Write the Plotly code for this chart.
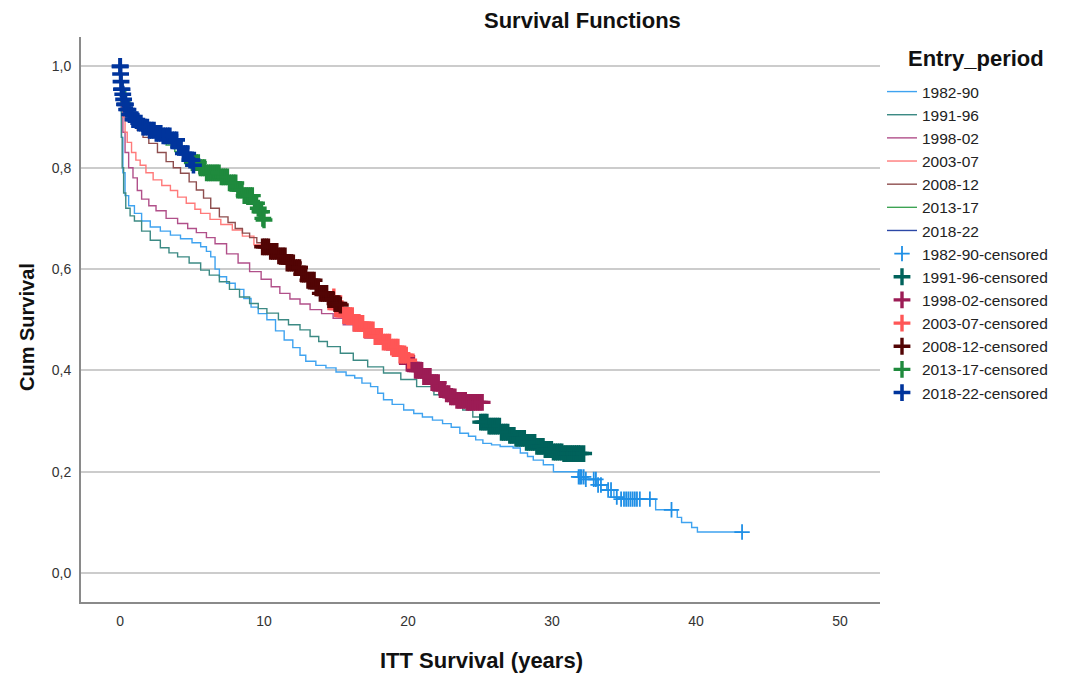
import numpy as np
import plotly.graph_objects as go

# ---------------- data ----------------
periods = ["1982-90", "1991-96", "1998-02", "2003-07", "2008-12", "2013-17", "2018-22"]

x_ticks = [0, 10, 20, 30, 40, 50]
y_ticks = [0.0, 0.2, 0.4, 0.6, 0.8, 1.0]
y_tick_labels = ["0,0", "0,2", "0,4", "0,6", "0,8", "1,0"]

# Kaplan-Meier step points (time in years, cumulative survival)
km_1982_90 = [(0, 1.0), (0.05, 0.93), (0.1, 0.86), (0.2, 0.79), (0.35, 0.745), (0.6, 0.725),
              (1.0, 0.71), (1.5, 0.695), (2.1, 0.683), (2.8, 0.675), (3.5, 0.667), (4.2, 0.66),
              (5.0, 0.652), (5.6, 0.644), (6.0, 0.635), (6.3, 0.624), (6.6, 0.60), (6.9, 0.585),
              (7.4, 0.572), (8.0, 0.56), (8.6, 0.542), (9.1, 0.525), (9.6, 0.512), (10.2, 0.50),
              (10.8, 0.478), (11.4, 0.46), (12.0, 0.445), (12.5, 0.43), (12.9, 0.418), (13.6, 0.41),
              (14.3, 0.405), (15.0, 0.397), (15.7, 0.39), (16.3, 0.385), (16.8, 0.375), (17.4, 0.368),
              (17.9, 0.355), (18.3, 0.342), (18.9, 0.333), (19.7, 0.322), (20.4, 0.315), (21.0, 0.308),
              (21.7, 0.302), (22.4, 0.295), (23.0, 0.288), (23.6, 0.276), (24.2, 0.27), (24.7, 0.263),
              (25.2, 0.256), (25.8, 0.253), (26.4, 0.25), (27.3, 0.247), (27.8, 0.237), (28.3, 0.23),
              (28.7, 0.223), (29.4, 0.214), (30.1, 0.2), (31.8, 0.19), (32.3, 0.185), (33.1, 0.174),
              (33.8, 0.164), (34.3, 0.15), (34.7, 0.146), (37.2, 0.125), (38.7, 0.11), (39.0, 0.10),
              (39.7, 0.09), (40.1, 0.081), (43.2, 0.081)]

km_1991_96 = [(0, 1.0), (0.05, 0.93), (0.1, 0.86), (0.15, 0.8), (0.25, 0.75), (0.4, 0.72),
              (0.7, 0.705), (1.0, 0.695), (1.5, 0.675), (2.1, 0.657), (2.8, 0.642), (3.4, 0.632),
              (4.0, 0.624), (4.8, 0.612), (5.6, 0.598), (6.2, 0.588), (6.9, 0.575), (7.6, 0.56),
              (8.3, 0.545), (9.0, 0.532), (9.6, 0.522), (10.2, 0.513), (11.0, 0.50), (11.7, 0.49),
              (12.5, 0.48), (13.2, 0.467), (13.8, 0.457), (14.4, 0.447), (15.3, 0.434), (16.2, 0.42),
              (17.2, 0.407), (18.3, 0.395), (19.5, 0.382), (20.6, 0.368), (21.8, 0.352), (22.9, 0.338),
              (23.8, 0.322), (24.5, 0.308), (25.0, 0.298), (25.6, 0.29), (26.4, 0.278), (27.0, 0.272),
              (27.5, 0.266), (28.2, 0.258), (28.9, 0.25), (29.5, 0.244), (30.1, 0.239), (30.8, 0.236),
              (32.2, 0.236)]

km_1998_02 = [(0, 1.0), (0.05, 0.96), (0.1, 0.92), (0.2, 0.87), (0.35, 0.83), (0.6, 0.80),
              (0.9, 0.78), (1.2, 0.755), (1.5, 0.738), (2.0, 0.725), (2.5, 0.715), (3.2, 0.70),
              (4.0, 0.69), (4.7, 0.68), (5.3, 0.672), (6.0, 0.662), (6.6, 0.65), (7.4, 0.63),
              (8.2, 0.612), (9.0, 0.595), (9.8, 0.58), (10.5, 0.565), (11.1, 0.552), (11.8, 0.541),
              (12.5, 0.531), (13.2, 0.52), (14.0, 0.512), (14.8, 0.503), (15.5, 0.49), (16.2, 0.478),
              (17.0, 0.464), (17.8, 0.452), (18.5, 0.44), (19.2, 0.428), (19.9, 0.414), (20.5, 0.40),
              (21.0, 0.388), (21.6, 0.376), (22.2, 0.362), (22.6, 0.354), (22.9, 0.348), (23.4, 0.341),
              (24.0, 0.337), (25.2, 0.335)]

km_2003_07 = [(0, 1.0), (0.05, 0.97), (0.1, 0.94), (0.2, 0.90), (0.35, 0.87), (0.5, 0.85),
              (0.8, 0.83), (1.1, 0.815), (1.4, 0.805), (1.8, 0.79), (2.3, 0.776), (2.9, 0.765),
              (3.5, 0.755), (4.0, 0.742), (4.6, 0.73), (5.2, 0.718), (5.6, 0.71), (6.25, 0.698),
              (7.0, 0.688), (7.8, 0.677), (8.5, 0.665), (9.3, 0.648), (10.2, 0.632), (11.0, 0.618),
              (11.7, 0.606), (12.5, 0.592), (13.2, 0.576), (13.8, 0.562), (14.4, 0.545), (14.9, 0.522),
              (15.5, 0.508), (16.2, 0.493), (16.9, 0.48), (17.6, 0.467), (18.2, 0.456), (18.75, 0.446),
              (19.4, 0.43), (19.9, 0.42), (20.1, 0.414)]

km_2008_12 = [(0, 1.0), (0.05, 0.98), (0.1, 0.96), (0.2, 0.94), (0.35, 0.925), (0.6, 0.905),
              (0.9, 0.888), (1.2, 0.874), (1.6, 0.86), (2.0, 0.848), (2.6, 0.83), (3.2, 0.812),
              (3.7, 0.80), (4.2, 0.789), (4.8, 0.772), (5.3, 0.756), (5.8, 0.74), (6.3, 0.72),
              (6.9, 0.703), (7.5, 0.692), (8.0, 0.68), (8.5, 0.671), (9.0, 0.662), (9.5, 0.652),
              (9.9, 0.644), (10.4, 0.635), (10.9, 0.626), (11.6, 0.612), (12.1, 0.603), (12.6, 0.59),
              (13.0, 0.578), (13.5, 0.563), (13.9, 0.552), (14.4, 0.54), (14.8, 0.532), (15.3, 0.529)]

km_2013_17 = [(0, 1.0), (0.05, 0.985), (0.1, 0.97), (0.2, 0.95), (0.4, 0.93), (0.7, 0.91),
              (1.0, 0.895), (1.5, 0.88), (2.0, 0.87), (2.6, 0.855), (3.2, 0.845), (3.8, 0.832),
              (4.4, 0.82), (5.0, 0.81), (5.5, 0.80), (6.0, 0.79), (6.9, 0.782), (7.5, 0.77),
              (8.1, 0.756), (8.6, 0.745), (9.2, 0.73), (9.5, 0.72), (9.7, 0.713), (9.9, 0.70),
              (10.0, 0.697)]

km_2018_22 = [(0, 1.0), (0.03, 0.985), (0.06, 0.97), (0.1, 0.955), (0.15, 0.945), (0.2, 0.935),
              (0.3, 0.925), (0.45, 0.915), (0.6, 0.905), (0.9, 0.895), (1.2, 0.888), (1.6, 0.88),
              (2.0, 0.874), (2.5, 0.868), (3.0, 0.863), (3.5, 0.855), (4.0, 0.84), (4.4, 0.828),
              (4.8, 0.815), (5.1, 0.805)]

# censoring times (years)
cens_1982_90 = [31.85, 31.95, 32.05, 32.2, 32.35, 32.9, 33.05, 33.2, 33.4, 33.9, 34.1, 34.5,
                34.8, 35.0, 35.15, 35.3, 35.45, 35.6, 35.75, 35.9, 36.1, 36.8, 38.3, 43.2]
cens_1991_96 = [25.05, 25.2, 25.34, 25.48, 25.63, 25.77, 25.92, 26.06, 26.2, 26.35, 26.49, 26.64,
                26.78, 26.93, 27.07, 27.21, 27.36, 27.5, 27.65, 27.8, 27.94, 28.08, 28.23, 28.37,
                28.52, 28.66, 28.8, 28.95, 29.1, 29.24, 29.38, 29.53, 29.67, 29.82, 29.96, 30.1,
                30.25, 30.39, 30.54, 30.68, 30.83, 30.97, 31.11, 31.26, 31.4, 31.55, 31.7, 31.84,
                31.98, 32.2]
cens_1998_02 = [19.95, 20.09, 20.23, 20.38, 20.52, 20.66, 20.81, 20.95, 21.1, 21.24, 21.38, 21.53,
                21.67, 21.82, 21.96, 22.1, 22.25, 22.39, 22.54, 22.68, 22.83, 22.97, 23.11, 23.26,
                23.4, 23.55, 23.69, 23.84, 23.98, 24.12, 24.27, 24.41, 24.56, 24.7, 24.85, 24.99, 25.15]
cens_2003_07 = [14.85, 14.98, 15.12, 15.27, 15.41, 15.55, 15.7, 15.84, 15.99, 16.13, 16.27, 16.42,
                16.56, 16.71, 16.85, 17.0, 17.14, 17.28, 17.43, 17.57, 17.72, 17.86, 18.0, 18.15,
                18.29, 18.44, 18.58, 18.72, 18.87, 19.01, 19.16, 19.3, 19.45, 19.6, 19.74, 19.88, 20.05]
cens_2008_12 = [9.9, 10.03, 10.17, 10.31, 10.46, 10.6, 10.74, 10.89, 11.03, 11.17, 11.32, 11.46,
                11.61, 11.75, 11.9, 12.04, 12.18, 12.33, 12.47, 12.62, 12.76, 12.9, 13.05, 13.19,
                13.34, 13.48, 13.62, 13.77, 13.91, 14.06, 14.2, 14.35, 14.5, 14.64, 14.78, 14.93,
                15.07, 15.2, 15.3]
cens_2013_17 = [5.02, 5.15, 5.3, 5.44, 5.58, 5.73, 5.87, 6.01, 6.16, 6.3, 6.45, 6.6, 6.74, 6.88,
                7.03, 7.17, 7.31, 7.46, 7.6, 7.75, 7.9, 8.04, 8.18, 8.33, 8.47, 8.62, 8.76, 8.9,
                9.05, 9.19, 9.34, 9.48, 9.6, 9.72, 9.83, 9.92, 10.0]
cens_2018_22 = [0.0, 0.02, 0.04, 0.07, 0.1, 0.14, 0.19, 0.25, 0.31, 0.38, 0.46, 0.55, 0.66, 0.78,
                0.9, 1.03, 1.17, 1.3, 1.45, 1.6, 1.74, 1.9, 2.05, 2.2, 2.36, 2.52, 2.67, 2.83, 3.0,
                3.15, 3.31, 3.46, 3.62, 3.78, 3.93, 4.08, 4.24, 4.4, 4.55, 4.7, 4.86, 5.0, 5.1]

km_curves = [km_1982_90, km_1991_96, km_1998_02, km_2003_07, km_2008_12, km_2013_17, km_2018_22]
cens_times = [cens_1982_90, cens_1991_96, cens_1998_02, cens_2003_07, cens_2008_12, cens_2013_17, cens_2018_22]

line_colors = ["#3fa3f0", "#3c8a84", "#b1508a", "#ff7a7a", "#8e4e4e", "#3da353", "#2b47a6"]
cens_colors = ["#1f8fe6", "#00625b", "#9c1c55", "#ff5656", "#520404", "#1f8a3d", "#00349c"]
cens_sizes = [11, 12, 12, 12, 12, 12, 12]
cens_widths = [1.8, 3.4, 3.4, 3.4, 3.4, 3.4, 3.6]

FONT = "Liberation Sans, Arial, sans-serif"

# The page places the figure 8 px in from the window's top-left corner.
OFF = 8
W, H = 1070 - OFF, 675 - OFF
PL, PR, PT, PB = 81 - OFF, 880 - OFF, 37 - OFF, 602 - OFF   # plot area in figure px
PW, PH = PR - PL, PB - PT


def surv_at(curve, times):
    """Value of the KM step function at the given censoring times."""
    t = np.array([p[0] for p in curve])
    s = np.array([p[1] for p in curve])
    idx = np.searchsorted(t, np.array(times), side="right") - 1
    return s[np.clip(idx, 0, len(s) - 1)]


def px_x(px):  # reference-window x pixel -> paper coordinate
    return (px - OFF - PL) / PW


def px_y(py):  # reference-window y pixel -> paper coordinate
    return (PB - (py - OFF)) / PH


fig = go.Figure()

for name, curve, col in zip(periods, km_curves, line_colors):
    fig.add_trace(go.Scatter(
        x=[p[0] for p in curve], y=[p[1] for p in curve],
        mode="lines", line=dict(color=col, width=1.4, shape="hv"),
        name=name, hoverinfo="skip"))

for name, curve, ct, col, sz, lw in zip(periods, km_curves, cens_times, cens_colors, cens_sizes, cens_widths):
    fig.add_trace(go.Scatter(
        x=ct, y=surv_at(curve, ct),
        mode="markers",
        marker=dict(symbol="cross-thin", size=sz, line=dict(color=col, width=lw), color=col),
        name=name + "-censored", hoverinfo="skip"))

fig.update_layout(
    width=W, height=H,
    margin=dict(l=PL, r=W - PR, t=PT, b=H - PB),
    paper_bgcolor="white", plot_bgcolor="white",
    font=dict(family=FONT, color="#222222", size=14),
    showlegend=True,
    legend=dict(
        x=px_x(882), y=px_y(75), xanchor="left", yanchor="top", xref="paper", yref="paper",
        font=dict(family=FONT, size=15.5, color="#222222"),
        tracegroupgap=0, itemwidth=30, borderwidth=0, bgcolor="rgba(0,0,0,0)",
    ),
)

fig.update_xaxes(
    range=[-2.71, 52.78], tickvals=x_ticks, ticktext=[str(v) for v in x_ticks],
    showgrid=False, zeroline=False, showline=True, linecolor="#8a8a8a", linewidth=2,
    ticks="outside", ticklen=5, tickcolor="rgba(0,0,0,0)",
    tickfont=dict(family=FONT, size=14, color="#333333"),
)
fig.update_yaxes(
    range=[-0.057, 1.058], tickvals=y_ticks, ticktext=y_tick_labels,
    showgrid=True, gridcolor="#cccccc", gridwidth=1.5, zeroline=False,
    showline=True, linecolor="#8a8a8a", linewidth=2,
    ticks="outside", ticklen=5, tickcolor="rgba(0,0,0,0)",
    tickfont=dict(family=FONT, size=14, color="#333333"),
)

fig.add_annotation(text="<b>Survival Functions</b>", xref="paper", yref="paper",
                   x=px_x(582), y=px_y(20), xanchor="center", yanchor="middle",
                   showarrow=False, font=dict(family=FONT, size=22, color="#111111"))
fig.add_annotation(text="<b>Entry_period</b>", xref="paper", yref="paper",
                   x=px_x(906), y=px_y(58), xanchor="left", yanchor="middle",
                   showarrow=False, font=dict(family=FONT, size=22, color="#111111"))
fig.add_annotation(text="<b>ITT Survival (years)</b>", xref="paper", yref="paper",
                   x=px_x(481), y=px_y(660), xanchor="center", yanchor="middle",
                   showarrow=False, font=dict(family=FONT, size=22, color="#111111"))
fig.add_annotation(text="<b>Cum Survival</b>", xref="paper", yref="paper",
                   x=px_x(27), y=px_y(327), xanchor="center", yanchor="middle",
                   textangle=-90, showarrow=False, font=dict(family=FONT, size=20, color="#111111"))

fig.write_html("out.html")
